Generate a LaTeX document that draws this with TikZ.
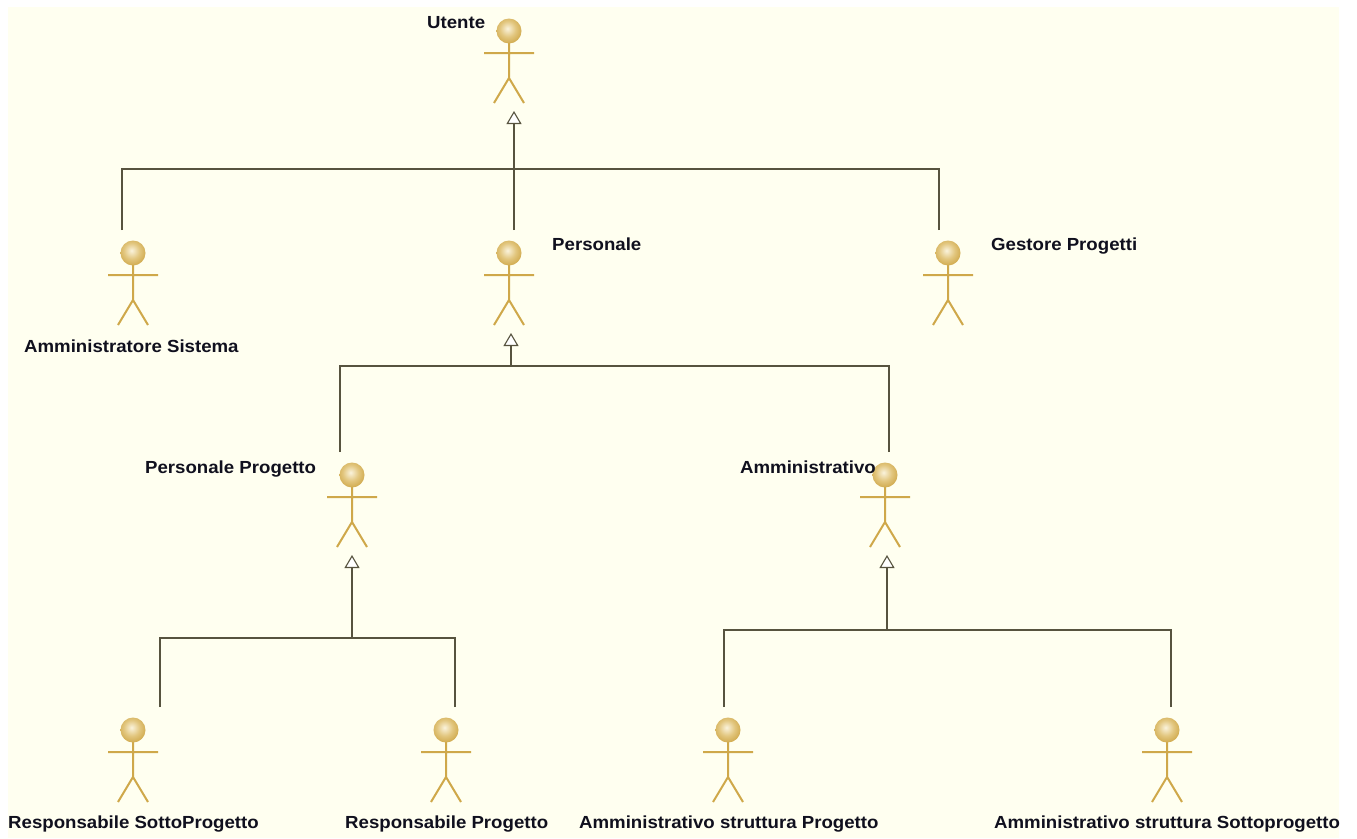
\documentclass[tikz,border=0pt]{standalone}
\usepackage{fontspec}
\setmainfont[FakeStretch=1.065]{Liberation Sans}
\usetikzlibrary{arrows.meta,calc}
\definecolor{paper}{HTML}{FFFFF0}
\definecolor{actorline}{HTML}{CFA84A}
\definecolor{conn}{HTML}{57533F}
\definecolor{labelink}{HTML}{10101E}
\definecolor{headlight}{HTML}{FAF3DC}
\definecolor{headmid}{HTML}{E2C67E}
\definecolor{headrim}{HTML}{BD9230}
\pgfdeclareradialshading{headball}{\pgfpoint{-3bp}{5bp}}{
 color(0bp)=(headlight);
 color(16bp)=(headmid);
 color(30bp)=(actorline);
 color(48bp)=(headrim);
 color(100bp)=(headrim)}
\tikzset{
 x=1pt,y=-1pt,
 actorbox/.style={minimum width=50pt,minimum height=84pt,inner sep=0pt,outer sep=0pt},
 lbl/.style={anchor=base west,inner sep=0pt,font=\bfseries\fontsize{17.5}{19}\selectfont,text=labelink},
 gen/.style={draw=conn,line width=1.1pt},
 gentip/.style={gen,-{Triangle[length=13pt,width=15pt,fill=white,line width=1.1pt]}}
}
% #1 name, #2 head centre x, #3 head centre y
\newcommand{\umlactor}[3]{%
 \node[actorbox] (#1) at (#2,#3+30) {};
 \draw[actorline,line width=2pt] (#2,#3+10) -- (#2,#3+48)
   (#2-25,#3+22) -- (#2+25,#3+22)
   (#2-15,#3+72) -- (#2,#3+47) -- (#2+15,#3+72);
 \shade[shading=headball] (#2,#3) circle[radius=12.5pt];
}
\begin{document}
\begin{tikzpicture}
\useasboundingbox (0,0) rectangle (1357,838);
\fill[white] (0,0) rectangle (1357,838);
\fill[paper] (8,7) rectangle (1339,838);
\umlactor{utente}{509}{31}
\umlactor{admin}{133}{253}
\umlactor{personale}{509}{253}
\umlactor{gestore}{948}{253}
\umlactor{persprog}{352}{475}
\umlactor{amm}{885}{475}
\umlactor{respsotto}{133}{730}
\umlactor{respprog}{446}{730}
\umlactor{ammprog}{728}{730}
\umlactor{ammsotto}{1167}{730}
\node[lbl] (lutente) at (427,28.5) {Utente};
\node[lbl] (ladmin) at (24,352.5) {Amministratore Sistema};
\node[lbl] (lpersonale) at (552,250.5) {Personale};
\node[lbl] (lgestore) at (991,250.5) {Gestore Progetti};
\node[lbl] (lpersprog) at (145,473.5) {Personale Progetto};
\node[lbl] (lamm) at (740,473.5) {Amministrativo};
\node[lbl] (lrespsotto) at (8,828.5) {Responsabile SottoProgetto};
\node[lbl] (lrespprog) at (345,828.5) {Responsabile Progetto};
\node[lbl] (lammprog) at (579,828.5) {Amministrativo struttura Progetto};
\node[lbl] (lammsotto) at (994,828.5) {Amministrativo struttura Sottoprogetto};
% generalisations: tips and tails offset from the actor boxes
\coordinate (t1) at ([shift={(5,8)}]utente.south);
\coordinate (b1) at (514,169);
\draw[gentip] ([shift={(5,-11)}]personale.north) -- (t1);
\draw[gen] ([shift={(-11,-11)}]admin.north) |- (b1);
\draw[gen] ([shift={(-9,-11)}]gestore.north) |- (b1);
\coordinate (t2) at ([shift={(2,8)}]personale.south);
\coordinate (b2) at (511,366);
\draw[gentip] (b2) -- (t2);
\draw[gen] ([shift={(-12,-11)}]persprog.north) |- (b2);
\draw[gen] ([shift={(4,-11)}]amm.north) |- (b2);
\coordinate (t3) at ([shift={(0,8)}]persprog.south);
\coordinate (b3) at (352,638);
\draw[gentip] (b3) -- (t3);
\draw[gen] ([shift={(27,-11)}]respsotto.north) |- (b3);
\draw[gen] ([shift={(9,-11)}]respprog.north) |- (b3);
\coordinate (t4) at ([shift={(2,8)}]amm.south);
\coordinate (b4) at (887,630);
\draw[gentip] (b4) -- (t4);
\draw[gen] ([shift={(-4,-11)}]ammprog.north) |- (b4);
\draw[gen] ([shift={(4,-11)}]ammsotto.north) |- (b4);
\end{tikzpicture}
\end{document}
